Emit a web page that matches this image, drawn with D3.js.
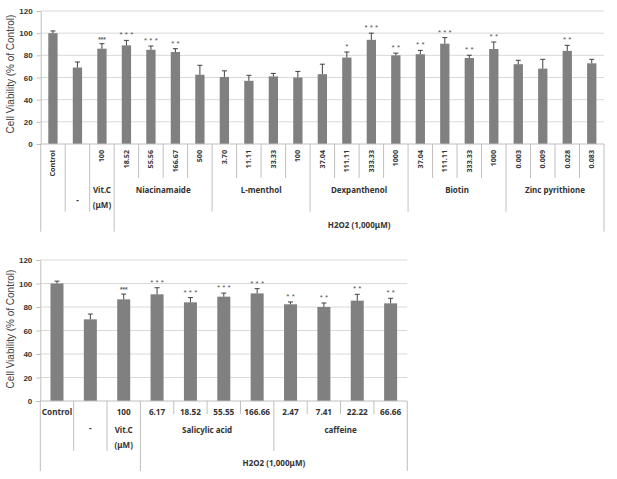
<!DOCTYPE html>
<html><head><meta charset="utf-8">
<script src="https://cdn.jsdelivr.net/npm/d3@7"></script>
<style>body{margin:0;background:#fff}</style>
</head><body><svg id="c" width="617" height="479"></svg>
<script>
// ---------- Data: top chart ----------
const topDoses = ["Control","","100","18.52","55.56","166.67","500","3.70","11.11","33.33","100","37.04","111.11","333.33","1000","37.04","111.11","333.33","1000","0.003","0.009","0.028","0.083"];
const topValues = [100,69,86,89,85,83,62.5,60.5,57,61,60,63,78,94,80,81,90.5,77.6,85.7,72,68,84,72.8];
const topErrors = [2,5,4.5,4.5,3.4,3,8.5,5.5,5,2.7,5.5,9,5,6,2,3.5,5.5,2.5,6.3,3.5,8.4,5,3.6];
const topSig = ["","","***","***","***","**","","","","","","","*","***","**","**","***","**","**","","","**",""];
const topGroupNames = ["","-","Vit.C|(μM)","Niacinamaide","L-menthol","Dexpanthenol","Biotin","Zinc pyrithione"];
const topGroupSizes = [1,1,1,4,4,4,4,4];

// ---------- Data: bottom chart ----------
const botDoses = ["Control","","100","6.17","18.52","55.55","166.66","2.47","7.41","22.22","66.66"];
const botValues = [100,69.5,86.5,90.8,84,88.8,91.6,82.3,80,85.4,83.1];
const botErrors = [2,4.5,4.5,5.6,4,3,4,2,3.4,5.4,4.3];
const botSig = ["","","***","***","***","***","***","**","**","**","**"];
const botGroupNames = ["","-","Vit.C|(μM)","Salicylic acid","caffeine"];
const botGroupSizes = [1,1,1,4,4];

const yTicks = [0,20,40,60,80,100,120];
const yTitle = "Cell Viability (% of Control)";
const outerLabel = "H2O2 (1,000μM)";
const outerStart = 3;

const svg = d3.select("#c");
const labelFont = "'Noto Sans','Open Sans',sans-serif";
const axisFont = "'Liberation Sans',Arial,sans-serif";
const textCol = "#333333";

function drawChart(cfg) {
  const g = svg.append("g");
  const n = cfg.doses.length;
  const x = d3.scaleBand().domain(d3.range(n)).range([cfg.x0, cfg.x1]).paddingInner(0).paddingOuter(0);
  const y = d3.scaleLinear().domain([0,120]).range([cfg.y0, cfg.yTop]);

  // gridlines
  g.append("g").selectAll("line").data(yTicks.filter(d=>d>0)).join("line")
    .attr("x1", cfg.x0).attr("x2", cfg.x1)
    .attr("y1", d=>y(d)).attr("y2", d=>y(d))
    .attr("stroke", "#d9d9d9").attr("stroke-width", 1);

  // y axis
  const ya = g.append("g").attr("transform", `translate(${cfg.x0},0)`)
    .call(d3.axisLeft(y).tickValues(yTicks).tickSize(4).tickPadding(4).tickFormat(d3.format("d")));
  ya.select(".domain").attr("stroke", "#bfbfbf");
  ya.selectAll(".tick line").attr("stroke", "#bfbfbf");
  ya.selectAll(".tick text").attr("font-family", axisFont).attr("font-size", 8)
    .attr("font-weight", "bold").attr("fill", textCol);

  // y title
  g.append("text").attr("transform", `translate(${cfg.titleX},${cfg.titleY}) rotate(-90)`)
    .attr("text-anchor", "middle").attr("font-family", axisFont).attr("font-size", 10)
    .attr("fill", "#404040").text(yTitle);

  // bars
  const bw = x.bandwidth() * cfg.barFrac;
  const cx = i => x(i) + x.bandwidth()/2;
  g.append("g").selectAll("rect").data(cfg.values).join("rect")
    .attr("x", (d,i)=>cx(i)-bw/2).attr("width", bw)
    .attr("y", d=>y(d)).attr("height", d=>cfg.y0 - y(d))
    .attr("fill", "#808080");

  // error bars
  const eb = g.append("g").attr("stroke", "#404040").attr("stroke-width", 1);
  cfg.values.forEach((v,i) => {
    const e = cfg.errors[i];
    eb.append("line").attr("x1", cx(i)).attr("x2", cx(i)).attr("y1", y(v)).attr("y2", y(v+e));
    eb.append("line").attr("x1", cx(i)-2.5).attr("x2", cx(i)+2.5).attr("y1", y(v+e)).attr("y2", y(v+e));
  });

  // significance
  cfg.sig.forEach((s,i) => {
    if (!s) return;
    const small = i === 2;
    const top = y(cfg.values[i] + cfg.errors[i]);
    g.append("text").attr("x", cx(i)).attr("y", top - (small ? 2 : 3))
      .attr("text-anchor", "middle").attr("font-family", axisFont)
      .attr("font-size", small ? 6.5 : 8).attr("fill", "#595959")
      .attr("font-weight", small ? "bold" : "normal")
      .text(small ? s : s.split("").join(" "));
  });

  // x axis baseline
  g.append("line").attr("x1", cfg.x0).attr("x2", cfg.x1).attr("y1", cfg.y0).attr("y2", cfg.y0)
    .attr("stroke", "#bfbfbf");

  // boundaries
  const groupBounds = new Set([0]);
  let acc = 0;
  cfg.groupSizes.forEach(s => { acc += s; groupBounds.add(acc); });
  const outerBounds = new Set([0, outerStart, n]);
  const bx = i => cfg.x0 + i * x.step();
  for (let i = 0; i <= n; i++) {
    let yEnd = cfg.l1Bottom;
    if (outerBounds.has(i)) yEnd = cfg.l3Bottom;
    else if (groupBounds.has(i)) yEnd = cfg.l2Bottom;
    g.append("line").attr("x1", bx(i)).attr("x2", bx(i)).attr("y1", cfg.y0).attr("y2", yEnd)
      .attr("stroke", "#bfbfbf");
  }

  // level 1 labels
  cfg.doses.forEach((d,i) => {
    if (!d) return;
    const t = g.append("text").attr("font-family", labelFont).attr("font-weight", "bold")
      .attr("font-size", cfg.l1Size).attr("fill", textCol).text(d);
    if (cfg.rotate) {
      t.attr("transform", `translate(${cx(i)},${cfg.l1Y}) rotate(-90)`)
        .attr("text-anchor", "end").attr("dy", "0.35em");
    } else {
      t.attr("x", cx(i)).attr("y", cfg.l1Y).attr("text-anchor", "middle").attr("dy", "0.35em");
    }
  });

  // level 2 labels
  let start = 0;
  cfg.groupNames.forEach((name, k) => {
    const size = cfg.groupSizes[k];
    const mid = cfg.x0 + (start + size/2) * x.step();
    start += size;
    if (!name) return;
    const lines = name.split("|");
    let yy = cfg.l2Y;
    if (name === "-") yy = cfg.dashY;
    lines.forEach((ln, j) => {
      g.append("text").attr("x", mid).attr("y", yy + j*cfg.l2LineH).attr("dy", "0.35em")
        .attr("text-anchor", "middle").attr("font-family", labelFont).attr("font-weight", "bold")
        .attr("font-size", cfg.l2Size).attr("fill", textCol).text(ln);
    });
  });

  // level 3 label
  g.append("text").attr("x", (bx(outerStart) + bx(n))/2).attr("y", cfg.l3Y).attr("dy", "0.35em")
    .attr("text-anchor", "middle").attr("font-family", labelFont).attr("font-weight", "bold")
    .attr("font-size", cfg.l2Size).attr("fill", textCol).text(outerLabel);
}

drawChart({
  doses: topDoses, values: topValues, errors: topErrors, sig: topSig,
  groupNames: topGroupNames, groupSizes: topGroupSizes,
  x0: 40.7, x1: 604, y0: 144, yTop: 11, barFrac: 0.38,
  titleX: 14, titleY: 74,
  rotate: true, l1Y: 150, l1Size: 7.2,
  l1Bottom: 178, l2Bottom: 211.7, l3Bottom: 231.7,
  l2Y: 190.5, dashY: 200, l2LineH: 14.5, l2Size: 8, l3Y: 225
});

drawChart({
  doses: botDoses, values: botValues, errors: botErrors, sig: botSig,
  groupNames: botGroupNames, groupSizes: botGroupSizes,
  x0: 40.3, x1: 407.3, y0: 401, yTop: 260, barFrac: 0.39,
  titleX: 14, titleY: 329,
  rotate: false, l1Y: 412.3, l1Size: 8.2,
  l1Bottom: 414, l2Bottom: 451, l3Bottom: 471,
  l2Y: 430, dashY: 428.5, l2LineH: 15, l2Size: 8, l3Y: 462.7
});
</script></body></html>
